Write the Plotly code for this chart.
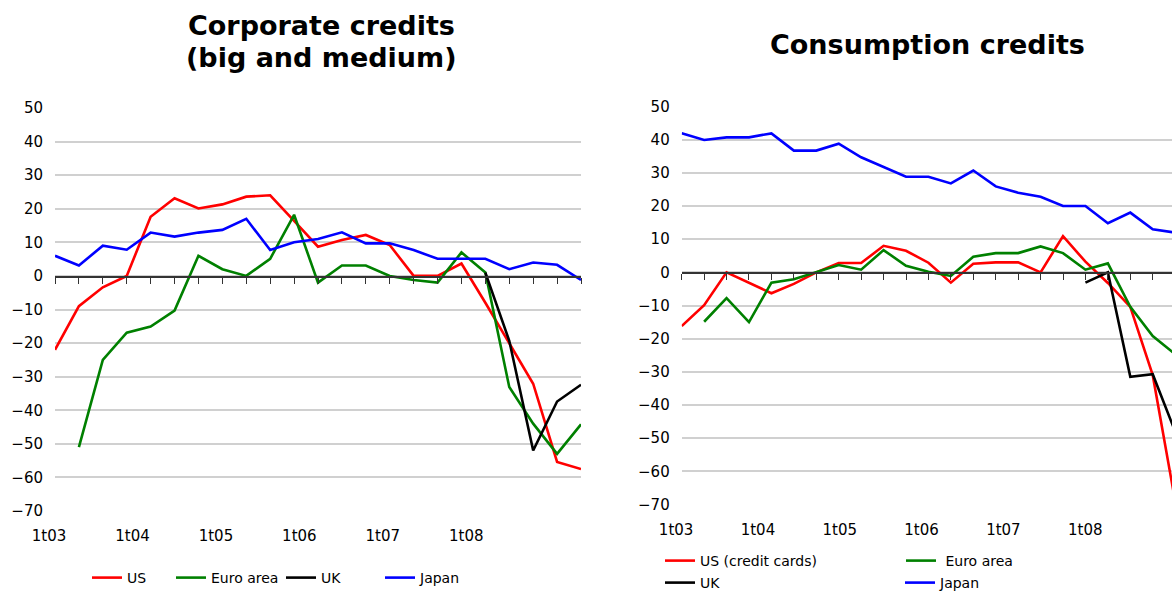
import plotly.graph_objects as go

# ---------------- data ----------------
quarters = [f"{q}t{y:02d}" for y in range(3, 9) for q in range(1, 5)][:23]   # 1t03 .. 3t08
tick_labels = ["1t03", "1t04", "1t05", "1t06", "1t07", "1t08"]

corp_us = [-22, -9, -3.4, 0, 17.6, 23.1, 20.1, 21.3, 23.6, 24.0, 16.4, 8.7, 10.7, 12.2, 9.2,
           0, 0, 3.7, -8, -20, -32.1, -55.4, -57.5]
corp_euro = [None, -51, -25, -16.9, -15.1, -10.3, 6.0, 2.0, 0, 5.1, 18.2, -2.0, 3.1, 3.1, 0,
             -1.2, -2.0, 7.0, 1.0, -33.1, -44, -53, -44.2]
corp_uk = [None] * 18 + [1.0, -19.3, -52, -37.4, -32.4]
corp_japan = [6.0, 3.1, 9.0, 7.8, 12.9, 11.7, 12.9, 13.7, 17.0, 7.7, 10.0, 11.0, 13.0, 9.7, 9.7,
              7.7, 5.1, 5.1, 5.1, 2.0, 4.0, 3.3, -1.2]

cons_us = [-16.2, -9.9, 0, -3.2, -6.3, -3.5, 0, 2.8, 2.8, 8.0, 6.5, 2.9, -3.1, 2.6, 3.0,
           3.0, 0, 10.9, 3.2, -3.2, -10.4, -31, -69]
cons_euro = [None, -14.9, -7.8, -15, -3.1, -2.1, 0, 2.2, 0.8, 6.7, 2.0, 0.2, -1.1, 4.7, 5.8,
             5.8, 7.8, 5.8, 0.8, 2.7, -10.4, -19.2, -24.7]
cons_uk = [None] * 18 + [-3.1, 0, -31.5, -30.7, -48]
cons_japan = [41.9, 39.9, 40.7, 40.7, 41.9, 36.7, 36.7, 38.8, 34.7, 31.8, 28.8, 28.8, 26.8, 30.7,
              25.9, 24.0, 22.8, 20.0, 20.0, 14.8, 18.0, 13.0, 12.0]

# ---------------- layout helpers ----------------
W, H = 1172, 595
FONT = "DejaVu Sans"
idx = list(range(len(quarters)))


def fx(px):
    return px / W


def fy(py):
    return 1 - py / H


YMIN, YMAX = -70, 50

panels = [
    dict(x0=55, x1=581, ytop=108, ybot=511, ppu=526 / 22,
         labpos=[-0.25 + 3.49 * k for k in range(6)],
         titles=[("Corporate credits", 321.5, 26), ("(big and medium)", 321.5, 58)]),
    dict(x0=681.7, x1=1172, ytop=106.5, ybot=504.5, ppu=22.43,
         labpos=[-0.25 + 3.648 * k for k in range(6)],
         titles=[("Consumption credits", 927.5, 45)]),
]

# axis ids per panel: data (x,y), zero-line ticks (xt,yt), bottom labels (xl,yl)
AX = [dict(x="x", y="y", xt="x3", yt="y3", xl="x5", yl="y5"),
      dict(x="x2", y="y2", xt="x4", yt="y4", xl="x6", yl="y6")]


def lay(a):
    return a[0] + "axis" + a[1:]


fig = go.Figure()
COL = {"US": "#ff0000", "Euro": "#008000", "UK": "#000000", "Japan": "#0000ff"}

series = [
    # panel, name, values, colour, legend id, legend x(px), legend y(px)
    (0, "US", corp_us, COL["US"], "legend", 87, 578),
    (0, "Euro area", corp_euro, COL["Euro"], "legend2", 171, 578),
    (0, "UK", corp_uk, COL["UK"], "legend3", 281, 578),
    (0, "Japan", corp_japan, COL["Japan"], "legend4", 380, 578),
    (1, "US (credit cards)", cons_us, COL["US"], "legend5", 660, 561),
    (1, " Euro area", cons_euro, COL["Euro"], "legend6", 901, 561),
    (1, "UK", cons_uk, COL["UK"], "legend7", 660, 583),
    (1, "Japan", cons_japan, COL["Japan"], "legend8", 900, 583),
]

for p, name, vals, col, leg, lx, ly in series:
    fig.add_trace(go.Scatter(
        x=idx, y=vals, mode="lines", name=name, text=quarters,
        line=dict(color=col, width=2.6), connectgaps=False,
        xaxis=AX[p]["x"], yaxis=AX[p]["y"], legend=leg,
        hovertemplate="%{text}: %{y}<extra>" + name.strip() + "</extra>"))
    fig.layout[leg] = dict(x=fx(lx), y=fy(ly), xanchor="left", yanchor="middle",
                           bgcolor="rgba(0,0,0,0)", font=dict(family=FONT, size=14, color="#000"),
                           itemwidth=30, orientation="v")

# empty traces so the helper axes (ticks on zero line, labels at bottom) get drawn
for p in range(2):
    for xa, ya in (("xt", "yt"), ("xl", "yl")):
        fig.add_trace(go.Scatter(x=[None], y=[None], xaxis=AX[p][xa], yaxis=AX[p][ya],
                                 showlegend=False, hoverinfo="skip"))

hidden_y = dict(showgrid=False, zeroline=False, showline=False, showticklabels=False, ticks="",
                range=[YMIN, YMAX], fixedrange=True)

annotations = []
for p, pn in enumerate(panels):
    a = AX[p]
    xr_end = (pn["x1"] - pn["x0"]) / pn["ppu"]
    ydom = [fy(pn["ybot"]), fy(pn["ytop"])]
    zero_pos = ydom[0] + (0 - YMIN) / (YMAX - YMIN) * (ydom[1] - ydom[0])
    pad = 40
    # data axes
    fig.layout[lay(a["x"])] = dict(
        domain=[fx(pn["x0"]), fx(pn["x1"])], range=[0, xr_end], anchor=a["y"],
        showticklabels=False, ticks="", showline=False, showgrid=False, zeroline=False,
        fixedrange=True)
    fig.layout[lay(a["y"])] = dict(
        domain=ydom, range=[YMIN, YMAX], anchor=a["x"], tickmode="linear", tick0=0, dtick=10,
        showgrid=True, gridcolor="#d0d0d0", gridwidth=1.5, zeroline=False, showline=False,
        ticks="", ticklabelstandoff=11, tickfont=dict(family=FONT, size=15, color="#000"),
        fixedrange=True)
    # tick axis sitting on the zero line
    fig.layout[lay(a["xt"])] = dict(
        domain=[fx(pn["x0"]), fx(pn["x1"])], range=[0, xr_end], anchor=a["yt"],
        tickmode="array", tickvals=idx, showticklabels=False, ticks="outside", ticklen=6,
        tickwidth=1, tickcolor="#333", showline=True, linecolor="#333", linewidth=1.5,
        showgrid=False, zeroline=False, fixedrange=True)
    fig.layout[lay(a["yt"])] = dict(domain=[zero_pos, ydom[1]], anchor=a["xt"], **hidden_y)
    # label axis at the bottom
    fig.layout[lay(a["xl"])] = dict(
        domain=[fx(pn["x0"] - pad), fx(pn["x1"])], range=[-pad / pn["ppu"], xr_end],
        anchor=a["yl"], side="bottom", tickmode="array", tickvals=pn["labpos"],
        ticktext=tick_labels, ticks="", showline=False, showgrid=False, zeroline=False,
        ticklabelstandoff=14, tickfont=dict(family=FONT, size=15, color="#000"),
        fixedrange=True)
    fig.layout[lay(a["yl"])] = dict(domain=ydom, anchor=a["xl"], **hidden_y)
    for text, tx, ty in pn["titles"]:
        annotations.append(dict(text=text, xref="paper", yref="paper", x=fx(tx), y=fy(ty),
                                xanchor="center", yanchor="middle", showarrow=False,
                                font=dict(family=FONT, size=27, color="#000", weight="bold")))

fig.update_layout(width=W, height=H, margin=dict(l=0, r=0, t=0, b=0, autoexpand=False),
                  paper_bgcolor="white", plot_bgcolor="rgba(0,0,0,0)", annotations=annotations,
                  showlegend=True, font=dict(family=FONT, color="#000"))

fig.write_html("out.html", config={"displayModeBar": False},
               post_script="document.body.style.margin='0';")
